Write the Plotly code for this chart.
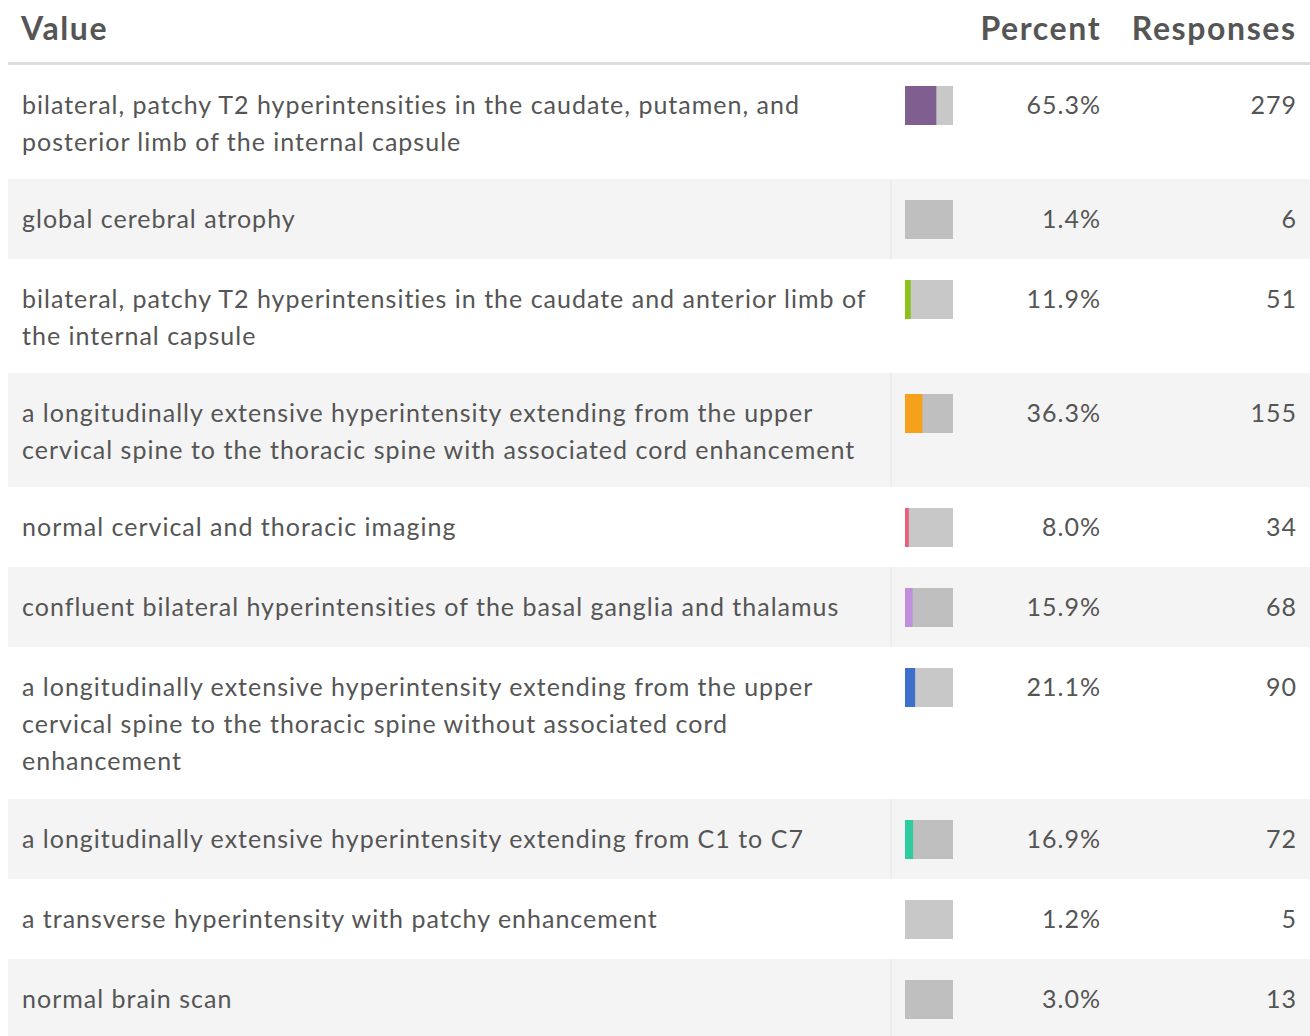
import plotly.graph_objects as go

# ---- data ----
categories = [
    ["bilateral, patchy T2 hyperintensities in the caudate, putamen, and",
     "posterior limb of the internal capsule"],
    ["global cerebral atrophy"],
    ["bilateral, patchy T2 hyperintensities in the caudate and anterior limb of",
     "the internal capsule"],
    ["a longitudinally extensive hyperintensity extending from the upper",
     "cervical spine to the thoracic spine with associated cord enhancement"],
    ["normal cervical and thoracic imaging"],
    ["confluent bilateral hyperintensities of the basal ganglia and thalamus"],
    ["a longitudinally extensive hyperintensity extending from the upper",
     "cervical spine to the thoracic spine without associated cord",
     "enhancement"],
    ["a longitudinally extensive hyperintensity extending from C1 to C7"],
    ["a transverse hyperintensity with patchy enhancement"],
    ["normal brain scan"],
]
percents = [65.3, 1.4, 11.9, 36.3, 8.0, 15.9, 21.1, 16.9, 1.2, 3.0]
responses = [279, 6, 51, 155, 34, 68, 90, 72, 5, 13]
bar_colors = ["#7e5f8f", "#bfbfbf", "#8bc21a", "#f5a11c", "#e8607e",
              "#c08fdb", "#3d6fcd", "#2ecc9e", "#c8c8c8", "#bfbfbf"]
headers = ["Value", "Percent", "Responses"]

# ---- layout geometry (pixels) ----
W, H = 1310, 1036
TEXT_C = "#555555"
FONT = "Lato, 'Open Sans', sans-serif"
BODY_LS = 1.0
HEAD_LS = 1.6
top0 = 65
line_h = 37
row_h = {1: 80, 2: 114, 3: 152}

tops = []
t = top0
for lines in categories:
    tops.append(t)
    t += row_h[len(lines)]
tops.append(t)

shapes = []
# header underline
shapes.append(dict(type="rect", xref="x", yref="y", x0=8, x1=W, y0=62, y1=65,
                   fillcolor="#dddddd", line_width=0, layer="below"))
for i in range(len(categories)):
    if i % 2 == 1:
        shapes.append(dict(type="rect", xref="x", yref="y", x0=8, x1=W,
                           y0=tops[i], y1=tops[i + 1],
                           fillcolor="#f4f4f4", line_width=0, layer="below"))
        shapes.append(dict(type="line", xref="x", yref="y", x0=891, x1=891,
                           y0=tops[i], y1=tops[i + 1],
                           line=dict(color="#e6e6e6", width=1), layer="below"))

fig = go.Figure()

# bars (through xaxis2: 0..100 percent scale)
bar_y = [tops[i] + 21 + 19.5 for i in range(len(categories))]
bg_colors = ["#c8c8c8" if i % 2 == 0 else "#bfbfbf" for i in range(len(categories))]
fig.add_trace(go.Bar(x=[100] * len(percents), y=bar_y, orientation="h",
                     width=39, marker=dict(color=bg_colors, line_width=0),
                     xaxis="x2", yaxis="y", hoverinfo="skip", showlegend=False))
fig.add_trace(go.Bar(x=percents, y=bar_y, orientation="h",
                     width=39, marker=dict(color=bar_colors, line_width=0),
                     xaxis="x2", yaxis="y", hoverinfo="skip", showlegend=False))

# label text
TXT_OFF = 42.5
lx, ly, lt = [], [], []
for i, lines in enumerate(categories):
    for j, s in enumerate(lines):
        lx.append(22)
        ly.append(tops[i] + TXT_OFF + j * line_h)
        lt.append(s)
fig.add_trace(go.Scatter(x=lx, y=ly, text=lt, mode="text",
                         textposition="middle right",
                         textfont=dict(family=FONT, size=25, color=TEXT_C),
                         hoverinfo="skip", showlegend=False))

first_y = [tops[i] + TXT_OFF for i in range(len(categories))]
fig.add_trace(go.Scatter(x=[1101] * len(percents), y=first_y,
                         text=[f"{p:.1f}%" for p in percents], mode="text",
                         textposition="middle left",
                         textfont=dict(family=FONT, size=25, color=TEXT_C),
                         hoverinfo="skip", showlegend=False))
fig.add_trace(go.Scatter(x=[1297] * len(responses), y=first_y,
                         text=[str(r) for r in responses], mode="text",
                         textposition="middle left",
                         textfont=dict(family=FONT, size=25, color=TEXT_C),
                         hoverinfo="skip", showlegend=False))

annotations = [
    dict(x=22, y=27, text=f"<b>{headers[0]}</b>", xanchor="left", yanchor="middle"),
    dict(x=1098, y=27, text=f"<b>{headers[1]}</b>", xanchor="right", yanchor="middle"),
    dict(x=1291, y=27, text=f"<b>{headers[2]}</b>", xanchor="right", yanchor="middle"),
]
for a in annotations:
    a.update(xref="x", yref="y", showarrow=False,
             font=dict(family=FONT, size=32, color=TEXT_C))

fig.update_layout(
    width=W, height=H,
    margin=dict(l=0, r=0, t=0, b=0),
    paper_bgcolor="white", plot_bgcolor="rgba(0,0,0,0)",
    barmode="overlay",
    xaxis=dict(range=[0, W], domain=[0, 1], visible=False, fixedrange=True),
    xaxis2=dict(range=[0, 100], domain=[905 / W, 953 / W], anchor="y",
                visible=False, fixedrange=True),
    yaxis=dict(range=[H, 0], domain=[0, 1], visible=False, fixedrange=True),
    shapes=shapes,
    annotations=annotations,
    showlegend=False,
)

post = """
document.body.style.margin='0';
document.querySelectorAll('.textpoint text').forEach(function(t){t.style.letterSpacing='%spx';});
document.querySelectorAll('.annotation-text').forEach(function(t){t.style.letterSpacing='%spx';});
""" % (BODY_LS, HEAD_LS)
fig.write_html("out.html", config={"displayModeBar": False}, post_script=post)
